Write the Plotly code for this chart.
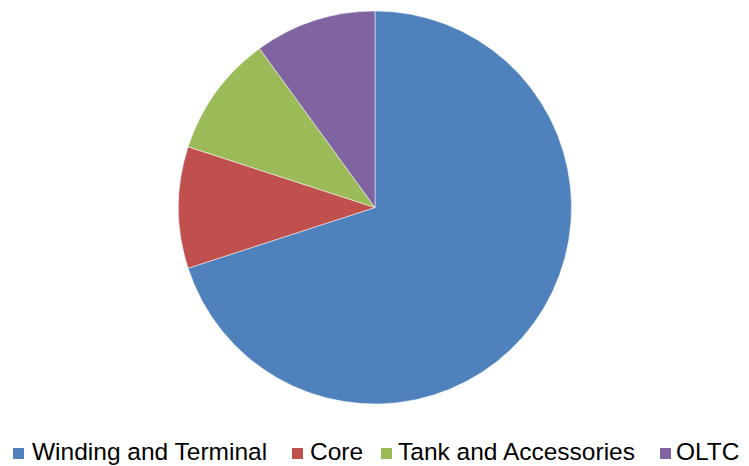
import plotly.graph_objects as go

labels = ["Winding and Terminal", "Core", "Tank and Accessories", "OLTC"]
values = [70, 10, 10, 10]
colors = ["#4F81BD", "#C0504D", "#9BBB59", "#8064A2"]

W, H = 749, 466
OFF = 8  # default page body margin shifts the figure

def px(x):
    return (x - OFF) / W

def py(y):
    return (H - (y - OFF)) / H

fig = go.Figure(
    go.Pie(
        labels=labels,
        values=values,
        sort=False,
        direction="clockwise",
        rotation=0,
        marker=dict(colors=colors, line=dict(color="white", width=0.5)),
        textinfo="none",
        hoverinfo="label+percent",
        domain=dict(x=[px(178), px(572)], y=[py(404), py(11)]),
        showlegend=False,
    )
)

# legend drawn Excel-style: small squares with tight gaps
sq_x = [13, 292, 381, 660]
txt_x = [31, 309, 397, 675]
sq = 11
for lab, col, sx, tx in zip(labels, colors, sq_x, txt_x):
    fig.add_shape(
        type="rect", xref="paper", yref="paper",
        x0=px(sx), x1=px(sx + sq), y0=py(459), y1=py(448),
        fillcolor=col, line=dict(width=0),
    )
    fig.add_annotation(
        xref="paper", yref="paper", x=px(tx), y=py(451),
        xanchor="left", yanchor="middle", showarrow=False, text=lab,
        font=dict(family="Liberation Sans, Arial, sans-serif", size=24.5, color="black"),
        borderpad=0,
    )

fig.update_layout(
    width=W,
    height=H,
    margin=dict(l=0, r=0, t=0, b=0),
    paper_bgcolor="white",
    plot_bgcolor="white",
    showlegend=False,
)

fig.write_html("out.html")
